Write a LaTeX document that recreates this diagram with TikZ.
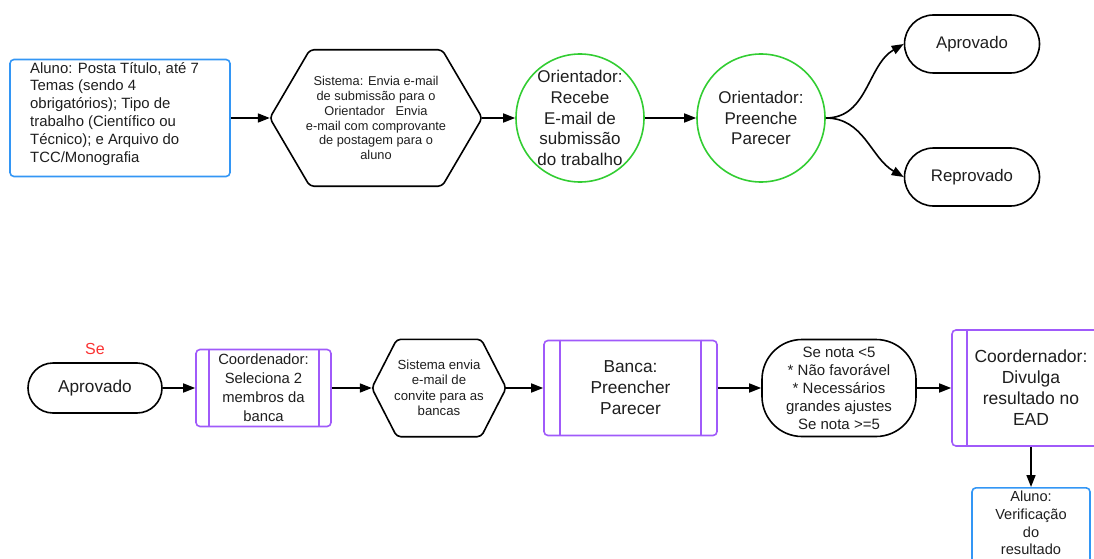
\documentclass[tikz,border=0pt]{standalone}
\usepackage{fontspec}
\setmainfont{Liberation Sans}
\usetikzlibrary{arrows.meta,calc}
\definecolor{cblue}{RGB}{51,150,245}
\definecolor{cgreen}{RGB}{50,205,50}
\definecolor{cpurple}{RGB}{160,90,250}
\definecolor{cred}{RGB}{250,50,50}
\definecolor{ctext}{RGB}{30,30,30}
\tikzset{
  every node/.style={text=ctext},
  fs/.style 2 args={font=\fontsize{#1}{#2}\selectfont},
  box/.style={draw=#1, line width=1.6pt, rounded corners=4pt, inner sep=0pt},
  stadium/.style={draw=black, line width=1.6pt, rounded corners=25pt, inner sep=0pt, align=center},
  circ/.style={draw=cgreen, line width=1.6pt, circle, inner sep=0pt, minimum size=128pt, align=center},
  hexa/.style={inner sep=0pt, align=center},
  conn/.style={line width=1.6pt, -{Triangle[length=12pt,width=9pt]}},
  hexline/.style={line width=1.6pt, rounded corners=4pt},
  inner/.style={draw=cpurple, line width=1.6pt},
}
\begin{document}
\begin{tikzpicture}[x=1pt,y=-1pt]
\useasboundingbox (0,0) rectangle (1094,559);
\clip (0,0) rectangle (1094,559);
% top row
\node[box=cblue, minimum width=220pt, minimum height=117pt] (a1) at (120,118) {};
\node[align=left, anchor=north west, inner sep=0pt, fs={14.9}{17.8}] (a1t) at (30,62) {Aluno: Posta Título, até 7\\Temas (sendo 4\\obrigatórios); Tipo de\\trabalho (Científico ou\\Técnico); e Arquivo do\\TCC/Monografia};
\node[hexa, minimum width=212pt, minimum height=136pt, fs={12.8}{14.9}] (h1) at (376,118) {Sistema: Envia e-mail\\de submissão para o\\Orientador\ \ \ Envia\\e-mail com comprovante\\de postagem para o\\aluno};
\draw[hexline] (h1.west) -- ($(h1.north west)+(40,0)$) -- ($(h1.north east)+(-40,0)$) -- (h1.east) -- ($(h1.south east)+(-40,0)$) -- ($(h1.south west)+(40,0)$) -- cycle;
\node[circ, fs={17}{20.8}] (c1) at (580,118) {Orientador:\\Recebe\\E-mail de\\submissão\\do trabalho};
\node[circ, fs={17}{20.8}] (c2) at (761,118) {Orientador:\\Preenche\\Parecer};
\node[stadium, minimum width=135pt, minimum height=58pt, rounded corners=29pt, fs={16.8}{19}] (ap1) at (972,44) {Aprovado};
\node[stadium, minimum width=135pt, minimum height=58pt, rounded corners=29pt, fs={16.8}{19}] (rp1) at (972,177) {Reprovado};
\draw[conn] (a1.east) -- (h1.west);
\draw[conn] (h1.east) -- (c1.west);
\draw[conn] (c1.east) -- (c2.west);
\draw[conn] (c2.east) to[out=0,in=210] (ap1.west);
\draw[conn] (c2.east) to[out=0,in=150] (rp1.west);
% bottom row
\node[text=cred, inner sep=0pt, fs={16}{18}] (se) at (95,349) {Se};
\node[stadium, minimum width=134pt, minimum height=50pt, fs={17.2}{19}] (ap2) at (95,388) {Aprovado};
\node[box=cpurple, minimum width=135pt, minimum height=77pt, align=center, fs={14.8}{19}] (co1) at (263.5,388) {Coordenador:\\Seleciona 2\\membros da\\banca};
\draw[inner] ($(co1.north west)+(14,0)$) -- ($(co1.south west)+(14,0)$);
\draw[inner] ($(co1.north east)+(-13,0)$) -- ($(co1.south east)+(-13,0)$);
\node[hexa, minimum width=134pt, minimum height=97pt, fs={13.2}{15.5}] (h2) at (439,388) {Sistema envia\\e-mail de\\convite para as\\bancas};
\draw[hexline] (h2.west) -- ($(h2.north west)+(25,0)$) -- ($(h2.north east)+(-25,0)$) -- (h2.east) -- ($(h2.south east)+(-25,0)$) -- ($(h2.south west)+(25,0)$) -- cycle;
\node[box=cpurple, minimum width=173pt, minimum height=95pt, align=center, fs={17.3}{21}] (ba) at (630.5,388) {Banca:\\Preencher\\Parecer};
\draw[inner] ($(ba.north west)+(17,0)$) -- ($(ba.south west)+(17,0)$);
\draw[inner] ($(ba.north east)+(-17,0)$) -- ($(ba.south east)+(-17,0)$);
\node[stadium, minimum width=154pt, minimum height=97pt, rounded corners=40pt, fs={15}{18}] (sn) at (839,388) {Se nota <5\\* Não favorável\\* Necessários\\grandes ajustes\\Se nota >=5};
\node[box=cpurple, minimum width=158pt, minimum height=116pt, align=center, fs={17.5}{21}] (co2) at (1031,388) {Coordernador:\\Divulga\\resultado no\\EAD};
\draw[inner] ($(co2.north west)+(16,0)$) -- ($(co2.south west)+(16,0)$);
\draw[inner] ($(co2.north east)+(-16,0)$) -- ($(co2.south east)+(-16,0)$);
\node[box=cblue, minimum width=118pt, minimum height=90pt, anchor=north] (al) at (1031,487) {};
\node[align=center, anchor=north, inner sep=0pt, fs={14.6}{17.7}] (alt) at (1031,491) {Aluno:\\Verificação\\do\\resultado};
\draw[conn] (ap2.east) -- (co1.west);
\draw[conn] (co1.east) -- (h2.west);
\draw[conn] (h2.east) -- (ba.west);
\draw[conn] (ba.east) -- (sn.west);
\draw[conn] (sn.east) -- (co2.west);
\draw[conn] (co2.south) -- (al.north);
\end{tikzpicture}
\end{document}
